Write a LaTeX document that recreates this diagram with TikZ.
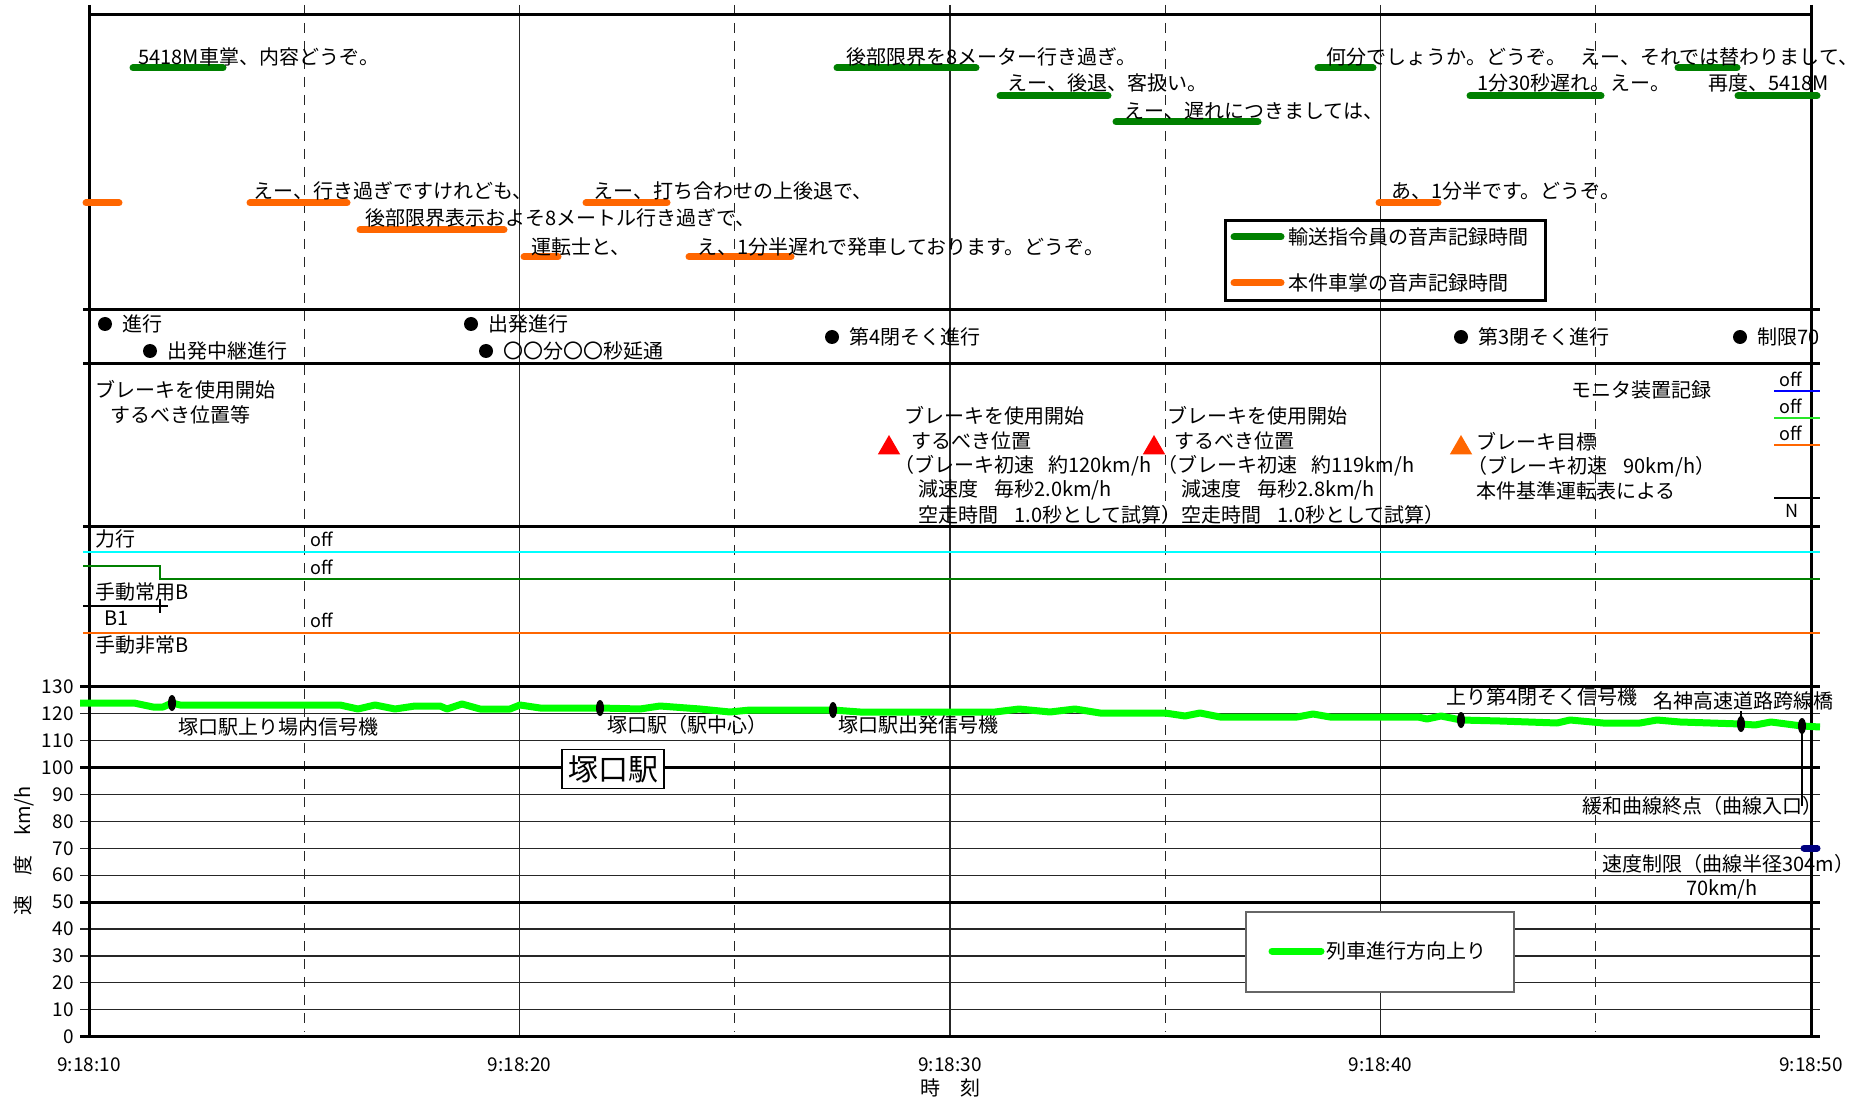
\documentclass[tikz,border=0pt]{standalone}
\usepackage{fontspec}
\setmainfont{Noto Sans CJK JP}
\usetikzlibrary{positioning,shapes.geometric}
\definecolor{cgreen}{RGB}{0,128,0}
\definecolor{corange}{RGB}{255,102,0}
\definecolor{cspeed}{RGB}{0,255,0}
\definecolor{ccyan}{RGB}{0,255,255}
\definecolor{cnavy}{RGB}{0,0,128}
\definecolor{cblue}{RGB}{0,0,255}
\definecolor{clime}{RGB}{40,230,40}
\tikzset{
	txt/.style={anchor=west,inner sep=0pt,font=\fontsize{10}{12}\selectfont},
	small/.style={txt,font=\fontsize{9}{11}\selectfont},
	axl/.style={inner sep=0pt,font=\fontsize{9.5}{11}\selectfont},
	voice/.style={line width=3.5pt,line cap=round},
	sepline/.style={line width=1.5pt},
	gline/.style={line width=0.6pt,black!85},
	state/.style={line width=1.2pt},
	sig/.style={circle,fill,inner sep=0pt,minimum size=7pt},
	tri/.style={regular polygon,regular polygon sides=3,inner sep=0pt,minimum size=13pt},
}
\begin{document}
\begin{tikzpicture}[x=0.5pt,y=-0.5pt]
\useasboundingbox (0,0) rectangle (1858,1101);
%\draw [help lines,black!20!white] (0,0) grid[step=100] (1858,1101);

% time grid, 43.05 per second from 9:18:10
\foreach \s in {10,20,30}{
	\draw[gline] ({89+43.05*\s},5) -- ({89+43.05*\s},1037);}
\foreach \s in {5,15,25,35}{
	\draw[gline,dash pattern=on 5pt off 4pt] ({89+43.05*\s},5) -- ({89+43.05*\s},1032);}

% speed grid
\foreach \v in {0,10,...,130}{
	\draw[gline] (80,{1036.7-2.692*\v}) -- (1820,{1036.7-2.692*\v});
	\node[axl,anchor=east] (v\v) at (74,{1036.7-2.692*\v}) {\v};}
\foreach \v in {0,50,100,130}{
	\draw[sepline] (80,{1036.7-2.692*\v}) -- (1820,{1036.7-2.692*\v});}

\draw[sepline] (89,15) -- (1811,15);
\foreach \y in {310,364,526}{
	\draw[sepline] (83,\y) -- (1820,\y);}
\draw[sepline] (89,5) -- (89,1037);
\draw[sepline] (1811,5) -- (1811,1037);

\foreach \s/\l in {0/10,10/20,20/30,30/40,40/50}{
	\node[axl] (t\l) at ({89+43.05*\s},1065) {9:18:\l};}
\node[txt,anchor=center] (tname) at (950,1088) {時　刻};
\node[txt,anchor=center,rotate=90] (vname) at (24,851) {速　度　km/h};

% voice records
\foreach \a/\b/\y in {133/223/68,837/976/68,1000/1108/96,1116/1258/122,1318/1373/68,1678/1737/68,1470/1601/96,1738/1817/96}{
	\draw[voice,cgreen] (\a,\y) -- (\b,\y);}
\foreach \a/\b/\y in {86/119/203,250/347/203,360/504/230,524/558/257,586/667/203,689/791/257,1379/1438/203}{
	\draw[voice,corange] (\a,\y) -- (\b,\y);}

\node[txt] (d1) at (138,57) {5418M車掌、内容どうぞ。};
\node[txt] (d2) at (846,57) {後部限界を8メーター行き過ぎ。};
\node[txt] (d3) at (1007,83) {えー、後退、客扱い。};
\node[txt] (d4) at (1124,111) {えー、遅れにつきましては、};
\node[txt] (d5) at (1326,57) {何分でしょうか。どうぞ。};
\node[txt] (d6) at (1580,57) {えー、それでは替わりまして、};
\node[txt] (d7) at (1477,83) {1分30秒遅れ。えー。};
\node[txt] (d8) at (1708,83) {再度、5418M};
\node[txt] (c1) at (253,191) {えー、行き過ぎですけれども、};
\node[txt] (c2) at (365,218) {後部限界表示およそ8メートル行き過ぎで、};
\node[txt] (c3) at (531,247) {運転士と、};
\node[txt] (c4) at (593,191) {えー、打ち合わせの上後退で、};
\node[txt] (c5) at (697,247) {え、1分半遅れで発車しております。どうぞ。};
\node[txt] (c6) at (1391,191) {あ、1分半です。どうぞ。};

\node[draw,line width=1.5pt,minimum width=160pt,minimum height=40pt] (leg1) at (1385,261) {};
\draw[voice,cgreen] (1234,237) -- (1281,237);
\node[txt] (leg1a) at (1288,237) {輸送指令員の音声記録時間};
\draw[voice,corange] (1234,283) -- (1281,283);
\node[txt] (leg1b) at (1288,283) {本件車掌の音声記録時間};

% signals
\foreach \n/\x/\y/\l in {1/105/324/進行,2/150/351/出発中継進行,3/471/324/出発進行,4/486/351/〇〇分〇〇秒延通,5/832/337/第4閉そく進行,6/1461/337/第3閉そく進行,7/1740/337/制限70}{
	\node[sig] (s\n) at (\x,\y) {};
	\node[txt,right=5pt of s\n] (s\n t) {\l};}

% brake points
\node[txt] (bk1) at (95,390) {ブレーキを使用開始};
\node[txt] (bk2) at (110,415) {するべき位置等};
\node[tri,fill=red] (ta) at (889,448) {};
\node[tri,fill=red] (tb) at (1154,448) {};
\node[tri,fill=corange] (tc) at (1461,448) {};
\foreach \n/\x/\y/\l in {a1/904/416/{ブレーキを使用開始},a2/911/441/{するべき位置},a3/894/466/{（ブレーキ初速\hspace{7pt}約120km/h},a4/918/490/{減速度\hspace{8pt}毎秒2.0km/h},a5/918/515/{空走時間\hspace{8pt}1.0秒として試算）},b1/1167/416/{ブレーキを使用開始},b2/1174/441/{するべき位置},b3/1157/466/{（ブレーキ初速\hspace{7pt}約119km/h},b4/1181/490/{減速度\hspace{8pt}毎秒2.8km/h},b5/1181/515/{空走時間\hspace{8pt}1.0秒として試算）},g1/1476/442/{ブレーキ目標},g2/1467/467/{（ブレーキ初速\hspace{8pt}90km/h）},g3/1476/491/{本件基準運転表による}}{
	\node[txt] (\n) at (\x,\y) {\l};}
\node[txt] (mon) at (1571,390) {モニタ装置記録};
\node[small] (o1) at (1779,379) {off};
\draw[state,cblue] (1774,391) -- (1820,391);
\node[small] (o2) at (1779,406) {off};
\draw[state,clime] (1774,418) -- (1820,418);
\node[small] (o3) at (1779,433) {off};
\draw[state,corange] (1774,445) -- (1820,445);
\draw[state] (1774,498) -- (1820,498);
\node[small] (nn) at (1785,511) {N};

% monitor states
\draw[state,ccyan] (83,552) -- (1820,552);
\draw[state,cgreen] (83,566) -- (160,566) -- (160,579) -- (1820,579);
\draw[state] (83,606) -- (168,606);
\draw[line width=0.8pt] (160,599) -- (160,613);
\draw[state,corange] (83,633) -- (1820,633);
\node[txt] (m1) at (95,539) {力行};
\node[small] (f1) at (310,539) {off};
\node[small] (f2) at (310,567) {off};
\node[txt] (m2) at (95,592) {手動常用B};
\node[txt] (m3) at (104,618) {B1};
\node[small] (f3) at (310,620) {off};
\node[txt] (m4) at (95,645) {手動非常B};

% speed
\draw[cspeed,line width=3.5pt,line join=round] plot coordinates {(80,703) (134,703) (153,707) (163,707) (172,703) (180,705) (340,705) (358,709) (375,705) (395,709) (415,706) (440,706) (447,709) (462,704) (480,709) (510,709) (520,705) (540,708) (600,708) (640,709) (660,706) (700,709) (730,712) (750,710) (833,710) (860,712) (995,712) (1019,709) (1050,712) (1075,709) (1100,713) (1165,713) (1185,716) (1200,713) (1220,717) (1297,717) (1313,714) (1330,717) (1418,717) (1427,719) (1441,716) (1461,720) (1500,721) (1557,723) (1570,720) (1603,723) (1640,723) (1657,720) (1680,722) (1741,724) (1755,725) (1771,722) (1802,726) (1820,727)};
\foreach \n/\x/\y in {1/172/703,2/600/708,3/833/710,4/1461/720,5/1741/724,6/1802/726}{
	\fill (\x,\y) coordinate (k\n) ellipse (2pt and 4pt);}
\draw[cnavy,line width=3.5pt,line cap=round] (1804,848) -- (1817,848);

\node[txt] (p1) at (178,727) {塚口駅上り場内信号機};
\node[txt] (p2) at (607,725) {塚口駅（駅中心）};
\node[txt] (p3) at (838,725) {塚口駅出発信号機};
\node[txt] (p4) at (1446,697) {上り第4閉そく信号機};
\node[txt] (p5) at (1653,701) {名神高速道路跨線橋};
\node[txt] (p6) at (1582,806) {緩和曲線終点（曲線入口）};
\node[txt] (p7) at (1602,864) {速度制限（曲線半径304m）};
\node[txt,anchor=center] (p8) at (1722,889) {70km/h};
\draw[line width=1pt] (k5) -- (k5 |- p5.south);
\draw[line width=1pt] (k6) -- (k6 |- p6.center);

\node[draw,fill=white,line width=0.6pt,inner sep=3pt,font=\fontsize{15}{18}\selectfont] (eki) at (613,769) {塚口駅};
\node[draw=black!60,fill=white,line width=0.6pt,minimum width=134pt,minimum height=40pt] (leg2) at (1380,952) {};
\draw[voice,cspeed] (1272,951) -- (1321,951);
\node[txt] (leg2a) at (1326,951) {列車進行方向上り};

\end{tikzpicture}
\end{document}
